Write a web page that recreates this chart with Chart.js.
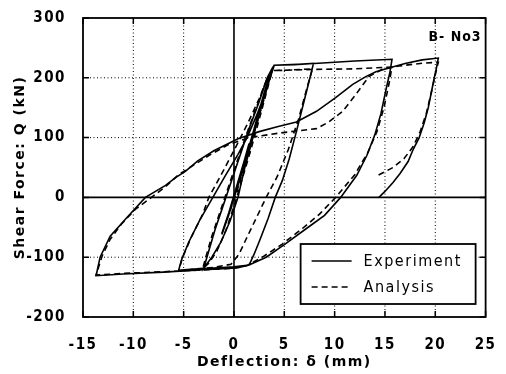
<!DOCTYPE html>
<html>
<head>
<meta charset="utf-8">
<script src="https://cdn.jsdelivr.net/npm/chart.js@4.4.1/dist/chart.umd.min.js"></script>
</head>
<body style="margin:0; background:#fff">
<canvas id="chartLoop" width="506" height="374"></canvas>
<script>
// tick values
const xTicks = [-15, -10, -5, 0, 5, 10, 15, 20, 25];
const yTicks = [-200, -100, 0, 100, 200, 300];

// Experiment (solid) - load path, deflection mm / shear kN
const expX = [0, 0.8, 1.5, 1.0, 0.2, -0.5, -1.2, -0.7, 0.2,
  1.0, 2.0, 3.0, 3.6, 4.0,
  3.5, 2.7, 1.8, 1.0, 0.4, -0.4, -1.3, -2.2, -3.0,
  -2.6, -1.9, -1.1, -0.5, 0.5, 1.5, 2.5, 3.3, 3.8, 4.0,
  6.0, 7.9,
  7.4, 6.8, 6.2, 5.5, 4.8, 4.1, 3.4, 2.6, 2.0, 1.5,
  0, -2, -4, -5.5,
  -5.2, -4.5, -3.4, -2.1, -0.9, 0.4, 1.3, 2.2, 3.0, 3.6, 4.0,
  8, 12, 15.7,
  15.5, 15.1, 14.6, 14.0, 13.2, 12.2, 10.6, 9.0, 7.2, 5.0, 3.2, 1.5, 0.3,
  -3, -7, -11, -13.7,
  -13.3, -12.3, -10.7, -8.8, -7.8, -6.8, -5.8, -4.8, -3.6, -2, 0.4, 2.5, 4.3, 6.2, 8.2, 10.1, 11.8, 13.1, 14.1, 15.3, 17, 18.7, 20.3,
  20.1, 19.9, 19.6, 19.3, 18.9, 18.4, 17.8, 17.3, 16.5, 15.8, 15.0, 14.4];
const expY = [0, 45, 90, 60, 15, -25, -60, -35, 10,
  55, 115, 175, 208, 221,
  195, 150, 95, 45, 0, -40, -75, -100, -118,
  -95, -55, -15, 15, 65, 115, 160, 200, 216, 221,
  222, 224,
  190, 150, 110, 65, 28, 0, -35, -70, -95, -113,
  -116, -118, -120, -122,
  -104, -75, -38, 0, 35, 72, 100, 135, 170, 200, 221,
  224, 228, 231,
  210, 180, 140, 105, 70, 37, 0, -30, -52, -79, -100, -113, -118,
  -121, -125, -128, -131,
  -100, -65, -35, 0, 10, 20, 33, 44, 61, 78, 98, 110, 118, 126, 144, 167, 189, 202, 210, 216, 224, 230, 233,
  215, 200, 175, 150, 125, 100, 80, 60, 40, 25, 10, 0];

// Analysis (dashed)
const anaX = [0, 0.8, 1.5, 1.0, 0.2, -0.5, -1.2, -0.7, 0.2,
  1.0, 2.0, 3.0, 3.5, 3.8,
  3.3, 2.5, 1.6, 0.8, 0.1, -0.8, -1.7, -2.5, -3.1,
  -2.8, -2.2, -1.5, -0.8, 0.2, 1.3, 2.4, 3.2, 3.8,
  5.5, 7.8,
  7.2, 6.4, 5.4, 4.3, 3.2, 2.2, 1.2, 0.5, -0.3,
  -2, -4, -5.5,
  -5.1, -4.2, -3.1, -2.5, -1.2, 0.2, 1.4, 2.5, 3.2, 3.8,
  8, 12, 15.7,
  15.4, 14.9, 14.2, 13.3, 12.0, 10.1, 8.5, 6.8, 4.8, 3.0, 1.3, -0.5,
  -4, -8, -11, -13.7,
  -13.1, -12.3, -11.2, -9.8, -8.2, -6.8, -5.5, -4.2, -2.5, -0.6, 1.5, 4.3, 6.2, 8.2, 9.4, 10.8, 12.1, 13.4, 14.7, 16.5, 18.5, 20.3,
  20.0, 19.6, 19.1, 18.5, 17.8, 16.9, 15.8, 14.3];
const anaY = [0, 42, 85, 55, 12, -28, -62, -38, 5,
  50, 108, 165, 200, 212,
  180, 130, 75, 30, -10, -55, -90, -110, -119,
  -100, -65, -30, 5, 55, 108, 158, 195, 212,
  213, 215,
  180, 130, 80, 35, 0, -35, -70, -95, -112,
  -117, -120, -123,
  -100, -65, -28, 0, 40, 85, 125, 165, 195, 212,
  214, 215, 218,
  190, 150, 110, 75, 38, 0, -28, -52, -78, -98, -114, -119,
  -122, -125, -127, -130,
  -98, -70, -45, -20, 0, 18, 38, 52, 70, 88, 100, 107, 111, 115, 126, 144, 172, 202, 214, 220, 224, 226,
  205, 175, 140, 110, 85, 65, 50, 37];

const tickFont = { family: "'Liberation Sans Narrow', 'DejaVu Sans Condensed', 'Liberation Sans', sans-serif", size: 15, weight: 'bold' };
const titleFont = { family: "'DejaVu Sans', 'Liberation Sans', sans-serif", size: 14, weight: 'bold' };

// grid lines as extra line datasets, built from the tick arrays
const gridSets = [];
xTicks.slice(1, -1).forEach(v => gridSets.push({
  data: [{ x: v, y: -200 }, { x: v, y: 300 }],
  showLine: true, borderColor: '#000', borderWidth: v === 0 ? 1.6 : 1,
  borderDash: v === 0 ? [] : [1, 2.5], pointRadius: 0, order: 10, isGrid: true
}));
yTicks.slice(1, -1).forEach(v => gridSets.push({
  data: [{ x: -15, y: v }, { x: 25, y: v }],
  showLine: true, borderColor: '#000', borderWidth: v === 0 ? 1.6 : 1,
  borderDash: v === 0 ? [] : [1, 2.5], pointRadius: 0, order: 10, isGrid: true
}));

const frame = {
  id: 'frame',
  beforeDraw(chart) {
    chart.ctx.letterSpacing = '1.5px';
  },
  afterDatasetsDraw(chart) {
    const ctx = chart.ctx, a = chart.chartArea;
    const sx = chart.scales.x, sy = chart.scales.y;
    ctx.save();
    ctx.strokeStyle = '#000';
    ctx.setLineDash([]);
    ctx.lineWidth = 1.5;
    const tl = 6;
    ctx.beginPath();
    for (let i = 0; i < xTicks.length; i++) {
      const px = sx.getPixelForValue(xTicks[i]);
      ctx.moveTo(px, a.bottom); ctx.lineTo(px, a.bottom - tl);
      ctx.moveTo(px, a.top); ctx.lineTo(px, a.top + tl);
    }
    for (let i = 0; i < yTicks.length; i++) {
      const py = sy.getPixelForValue(yTicks[i]);
      ctx.moveTo(a.left, py); ctx.lineTo(a.left + tl, py);
      ctx.moveTo(a.right, py); ctx.lineTo(a.right - tl, py);
    }
    ctx.stroke();
    ctx.lineWidth = 1.8;
    ctx.strokeRect(a.left, a.top, a.right - a.left, a.bottom - a.top);
    ctx.restore();
  },
  afterDraw(chart) {
    const { ctx, chartArea: a } = chart;
    ctx.save();
    ctx.letterSpacing = '1px';
    ctx.fillStyle = '#000';
    ctx.font = "bold 14px 'Liberation Sans Narrow', 'DejaVu Sans Condensed', sans-serif";
    ctx.textAlign = 'right';
    ctx.textBaseline = 'middle';
    ctx.fillText('B- No3', a.right - 4, a.top + 19);

    // legend box
    const bw = 175, bh = 60;
    const bx = a.right - 10 - bw, by = a.bottom - 13 - bh;
    ctx.fillStyle = '#fff';
    ctx.fillRect(bx, by, bw, bh);
    ctx.strokeStyle = '#000';
    ctx.lineWidth = 1.8;
    ctx.strokeRect(bx, by, bw, bh);
    ctx.font = "16px 'Liberation Sans Narrow', 'DejaVu Sans Condensed', sans-serif";
    ctx.letterSpacing = '1.5px';
    ctx.textAlign = 'left';
    chart.data.datasets.filter(ds => !ds.isGrid).forEach((ds, i) => {
      const ly = by + 17 + i * 26;
      ctx.strokeStyle = ds.borderColor;
      ctx.lineWidth = 1.5;
      ctx.setLineDash(ds.borderDash || []);
      ctx.beginPath();
      ctx.moveTo(bx + 11, ly); ctx.lineTo(bx + 51, ly);
      ctx.stroke();
      ctx.setLineDash([]);
      ctx.fillStyle = '#000';
      ctx.fillText(ds.label, bx + 63, ly + 1);
    });
    ctx.restore();
  }
};

new Chart(document.getElementById('chartLoop'), {
  type: 'scatter',
  data: {
    datasets: [{
      label: 'Experiment',
      data: expX.map((v, i) => ({ x: v, y: expY[i] })),
      showLine: true,
      borderColor: '#000',
      borderWidth: 1.6,
      pointRadius: 0,
      tension: 0,
      order: 1
    }, {
      label: 'Analysis',
      data: anaX.map((v, i) => ({ x: v, y: anaY[i] })),
      showLine: true,
      borderColor: '#000',
      borderWidth: 1.6,
      borderDash: [6, 4],
      pointRadius: 0,
      tension: 0,
      order: 2
    }, ...gridSets]
  },
  options: {
    responsive: false,
    animation: false,
    layout: { padding: { top: 13, right: 14, left: 0, bottom: 0 } },
    plugins: { legend: { display: false }, tooltip: { enabled: false } },
    scales: {
      x: {
        min: -15, max: 25,
        afterBuildTicks: s => { s.ticks = xTicks.map(v => ({ value: v })); },
        afterFit: s => { s.height = 57; },
        ticks: { color: '#000', font: tickFont, padding: 11, maxRotation: 0 },
        grid: { display: false },
        border: { display: false },
        title: { display: true, text: 'Deflection: δ (mm)', color: '#000', font: titleFont, padding: { top: 4, bottom: 3 } }
      },
      y: {
        min: -200, max: 300,
        afterBuildTicks: s => { s.ticks = yTicks.map(v => ({ value: v })); },
        afterFit: s => { s.width = 83; },
        ticks: { color: '#000', font: tickFont, padding: 9 },
        grid: { display: false },
        border: { display: false },
        title: { display: true, text: 'Shear Force: Q (kN)', color: '#000', font: titleFont, padding: { top: 12, bottom: 4 } }
      }
    }
  },
  plugins: [frame]
});
</script>
</body>
</html>
